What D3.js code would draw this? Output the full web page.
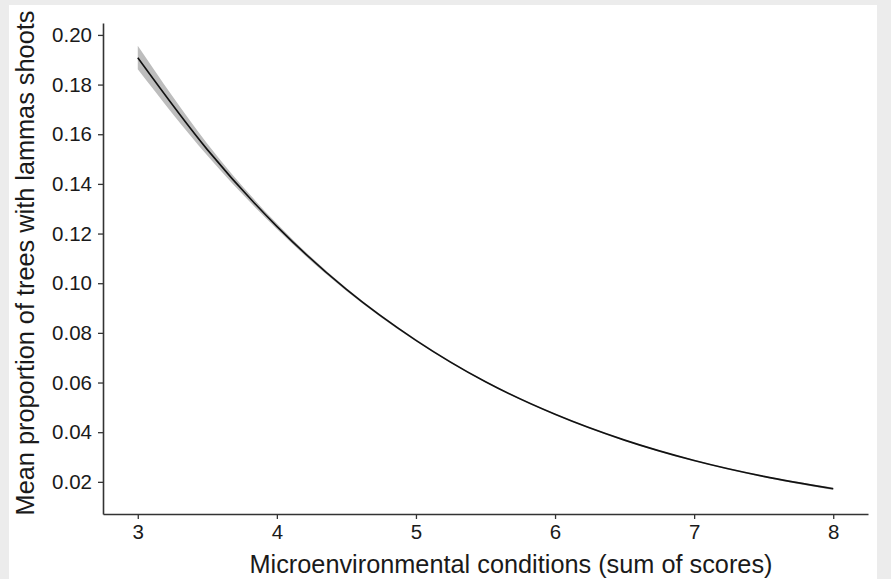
<!DOCTYPE html>
<html>
<head>
<meta charset="utf-8">
<script src="https://cdn.jsdelivr.net/npm/d3@7"></script>
<style>
  html, body { margin: 0; padding: 0; background: #ececec; }
  svg { display: block; }
  text { font-family: "Liberation Sans", Arial, Helvetica, sans-serif; }
</style>
</head>
<body>
<svg id="chart" width="891" height="579"></svg>
<script>
// Fitted mean proportion with its confidence band, by microenvironmental score
const scores = [3, 3.5, 4, 4.5, 5, 5.5, 6, 6.5, 7, 7.5, 8];
const meanProp = [0.1908, 0.1538, 0.1229, 0.0975, 0.0770, 0.0603, 0.0472, 0.0368, 0.0286, 0.0222, 0.0172];
const upperProp = [0.1956, 0.1562, 0.1240, 0.0981, 0.0774, 0.0606, 0.0475, 0.0371, 0.0289, 0.0225, 0.0177];
const lowerProp = [0.1862, 0.1514, 0.1218, 0.0969, 0.0766, 0.0600, 0.0469, 0.0365, 0.0283, 0.0219, 0.0167];
const xTicks = [3, 4, 5, 6, 7, 8];
const yTicks = [0.02, 0.04, 0.06, 0.08, 0.10, 0.12, 0.14, 0.16, 0.18, 0.20];

const svg = d3.select("#chart");
const W = 891, H = 579;

// white page panel
svg.append("rect").attr("x", 9).attr("y", 5).attr("width", 868).attr("height", H - 5).attr("fill", "#ffffff");

const m = { left: 103, right: 868, top: 23, bottom: 514 };

const x = d3.scaleLinear().domain([2.75, 8.25]).range([m.left, m.right]);
const y = d3.scaleLinear().domain([0.00705, 0.2048]).range([m.bottom, m.top]);

const rows = scores.map((s, i) => ({ s, m: meanProp[i], lo: lowerProp[i], hi: upperProp[i] }));

// confidence band
svg.append("path")
  .datum(rows)
  .attr("fill", "#bdbdbd")
  .attr("d", d3.area().x(d => x(d.s)).y0(d => y(d.lo)).y1(d => y(d.hi)).curve(d3.curveMonotoneX));

// mean line
svg.append("path")
  .datum(rows)
  .attr("fill", "none")
  .attr("stroke", "#111")
  .attr("stroke-width", 1.6)
  .attr("d", d3.line().x(d => x(d.s)).y(d => y(d.m)).curve(d3.curveMonotoneX));

// axes
const xAxis = svg.append("g")
  .attr("transform", `translate(0,${m.bottom})`)
  .call(d3.axisBottom(x).tickValues(xTicks).tickFormat(d3.format("d")).tickSize(5).tickSizeOuter(0));
const yAxis = svg.append("g")
  .attr("transform", `translate(${m.left},0)`)
  .call(d3.axisLeft(y).tickValues(yTicks).tickFormat(d3.format(".2f")).tickSize(5).tickSizeOuter(0));

[xAxis, yAxis].forEach(g => {
  g.select(".domain").attr("stroke", "#333").attr("stroke-width", 1.6);
  g.selectAll(".tick line").attr("stroke", "#333").attr("stroke-width", 1.3);
  g.selectAll(".tick text").attr("fill", "#1a1a1a").style("font-size", "20.5px");
});
xAxis.selectAll(".tick text").attr("dy", "0.95em").attr("y", 6);
yAxis.selectAll(".tick text").attr("x", -11);

// axis titles
svg.append("text")
  .attr("x", 511)
  .attr("y", 573)
  .attr("text-anchor", "middle")
  .attr("fill", "#1a1a1a")
  .style("font-size", "25.3px")
  .text("Microenvironmental conditions (sum of scores)");

svg.append("text")
  .attr("transform", `translate(34,263) rotate(-90)`)
  .attr("text-anchor", "middle")
  .attr("fill", "#1a1a1a")
  .style("font-size", "25.3px")
  .text("Mean proportion of trees with lammas shoots");
</script>
</body>
</html>
